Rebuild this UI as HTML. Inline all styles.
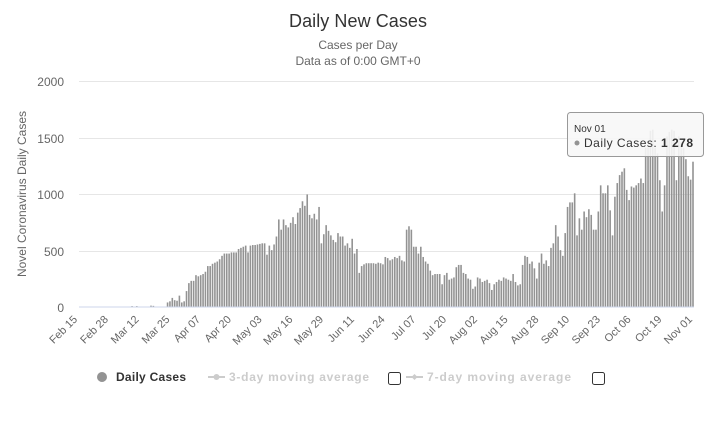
<!DOCTYPE html>
<html><head><meta charset="utf-8"><style>
body{margin:0;background:#fff;width:716px;height:427px;overflow:hidden;font-family:"Liberation Sans",sans-serif}
</style></head><body>
<svg id="s" width="716" height="427" xmlns="http://www.w3.org/2000/svg" font-family="Liberation Sans, sans-serif">
<text x="358" y="27" text-anchor="middle" font-size="18" fill="#333" textLength="138">Daily New Cases</text>
<text x="358" y="49" text-anchor="middle" font-size="12" fill="#666">Cases per Day</text>
<text x="358" y="65" text-anchor="middle" font-size="12" fill="#666">Data as of 0:00 GMT+0</text>
<g stroke="#e6e6e6" stroke-width="1">
<line x1="79" x2="694" y1="81.5" y2="81.5"/><line x1="79" x2="694" y1="138.5" y2="138.5"/>
<line x1="79" x2="694" y1="194.5" y2="194.5"/><line x1="79" x2="694" y1="251.5" y2="251.5"/>
</g>
<g font-size="12" fill="#666" text-anchor="end">
<text x="64" y="86">2000</text><text x="64" y="143">1500</text><text x="64" y="199">1000</text>
<text x="64" y="256">500</text><text x="64" y="312">0</text></g>
<text transform="translate(26,194) rotate(-90)" text-anchor="middle" font-size="12" fill="#666">Novel Coronavirus Daily Cases</text>
<g id="bars" fill="#939393"></g>
<line x1="79" x2="694" y1="307" y2="307" stroke="#ccd6eb"/>
<g id="xl" font-size="11" fill="#666"></g>
<circle cx="102" cy="377" r="5" fill="#939393"/>
<text x="116" y="381" font-size="12" font-weight="bold" fill="#333" textLength="70">Daily Cases</text>
<line x1="208" x2="225" y1="377" y2="377" stroke="#ccc" stroke-width="2"/><circle cx="216.5" cy="377" r="3" fill="#ccc"/>
<text x="229" y="381" font-size="12" font-weight="bold" fill="#ccc" textLength="140">3-day moving average</text>
<rect x="388.5" y="372.5" width="12" height="12" rx="2" fill="#fff" stroke="#333"/>
<line x1="406" x2="423" y1="377" y2="377" stroke="#ccc" stroke-width="2"/><path d="M414.5 374l3 3-3 3-3-3z" fill="#ccc"/>
<text x="427" y="381" font-size="12" font-weight="bold" fill="#ccc" textLength="144">7-day moving average</text>
<rect x="592.5" y="372.5" width="12" height="12" rx="2" fill="#fff" stroke="#333"/>
<rect x="567.5" y="112.5" width="136" height="44" rx="3" fill="#f7f7f7" fill-opacity="0.9" stroke="#999"/>
<text x="574" y="132" font-size="10" fill="#333">Nov 01</text>
<circle cx="577" cy="143" r="2.5" fill="#939393"/>
<text x="584" y="147" font-size="12" fill="#333" textLength="109">Daily Cases: <tspan font-weight="bold">1 278</tspan></text>
</svg>
<script>
var z=[];for(var i=0;i<37;i++)z.push(0);
z[22]=8;z[24]=8;z[30]=12;z[31]=10;
var a=[40,50,80,60,55,100,40,50,140,210,230,230,280,270,280,290,310,360,360,380,390,400,420,450,470,470,470,480,480,480,510,520,530,540,480,540,545,545,550,555,560,560,460,540,500,550,620,770,680,770,720,700,740,790,730,830,870,930,890,990,810,780,820,770,880,560,640,720,670,630,590,570,650,620,620,540,560,520,600,470,510,
300,360,375,385,385,385,385,380,390,385,375,440,430,410,420,440,430,450,410,400,680,710,680,
530,530,470,530,440,400,380,320,280,290,290,290,200,280,300,240,250,260,350,370,370,300,290,250,240,
160,180,260,250,220,230,240,210,150,200,220,240,230,260,250,240,230,290,220,190,200,370,450,440,380,400,340,250,390,470,380,410,360,
520,560,720,620,
500,450,650,880,920,920,1000,630,780,680,840,790,860,810,680,680,840,1070,1000,1000,1070,850,630,970,1090,1160,1190,1220,1030,940,1060,1050,1070,1090,1130,1090,1400,1400,1550,1560,1400,1350,1115,840,1070,1500,1540,1560,1550,1115,1500,1450,1400,1300,1150,1120,1278];
z=z.concat(a);
var n=z.length,x0=80,x1=693,st=(x1-x0)/(n-1),h='';
for(var i=0;i<n;i++){var v=z[i];if(v<=0)continue;var hh=v*0.1137;
h+='<rect x="'+(x0+i*st-0.8).toFixed(2)+'" y="'+(307-hh).toFixed(2)+'" width="1.6" height="'+hh.toFixed(2)+'"/>';}
document.getElementById('bars').innerHTML=h;
var L=["Feb 15","Feb 28","Mar 12","Mar 25","Apr 07","Apr 20","May 03","May 16","May 29","Jun 11","Jun 24","Jul 07","Jul 20","Aug 02","Aug 15","Aug 28","Sep 10","Sep 23","Oct 06","Oct 19","Nov 01"],t='';
for(var k=0;k<L.length;k++){var x=78+k*(615/20);t+='<text transform="translate('+x.toFixed(1)+',320) rotate(-45)" text-anchor="end">'+L[k]+'</text>';}
document.getElementById('xl').innerHTML=t;
</script>
</body></html>
